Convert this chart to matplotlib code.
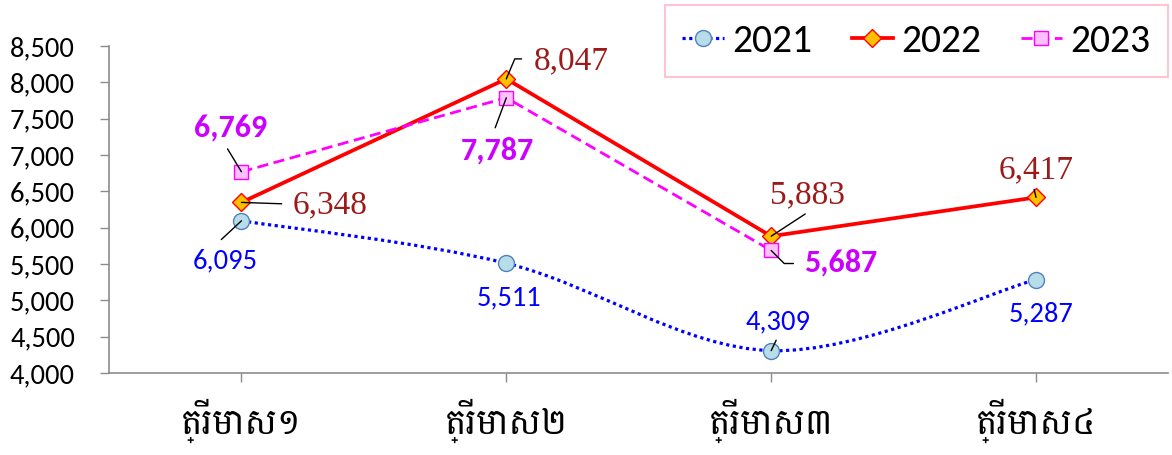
import numpy as np
import matplotlib.pyplot as plt
from matplotlib.path import Path
from matplotlib.patches import PathPatch
from matplotlib.lines import Line2D
from matplotlib.ticker import FuncFormatter

# data
quarters = ["ត្រីមាស១", "ត្រីមាស២", "ត្រីមាស៣", "ត្រីមាស៤"]
years = ["2021", "2022", "2023"]
y2021 = [6095, 5511, 4309, 5287]
y2022 = [6348, 8047, 5883, 6417]
y2023 = [6769, 7787, 5687]

plt.rcParams["font.family"] = ["Carlito", "DejaVu Sans"]
khmer_font = ["Battambang", "DejaVu Sans"]
serif_font = ["Liberation Serif", "DejaVu Serif"]

c2021, c2022, c2023 = "#0000FF", "#FF0000", "#FF00FF"


def smooth_path(xs, ys):
    # Excel-like smoothed line: Catmull-Rom turned into cubic Bezier segments
    pts = np.column_stack([xs, ys]).astype(float)
    ext = np.vstack([pts[0], pts, pts[-1]])
    verts = [pts[0]]
    codes = [Path.MOVETO]
    for i in range(len(pts) - 1):
        p0, p1, p2, p3 = ext[i], ext[i + 1], ext[i + 2], ext[i + 3]
        verts += [p1 + (p2 - p0) / 6, p2 - (p3 - p1) / 6, p2]
        codes += [Path.CURVE4] * 3
    return Path(verts, codes)


fig = plt.figure(figsize=(11.72, 4.55), dpi=100)
ax = fig.add_axes([0.093, 0.180, 0.904, 0.719])

x = np.arange(len(quarters))
dotted = (0, (1, 1.1))

# 2021 - smoothed dotted line
ax.add_patch(PathPatch(smooth_path(x, y2021), fill=False, edgecolor=c2021,
                       linestyle=dotted, lw=2.3, zorder=2))
ax.plot(x, y2021, ls="none", marker="o", ms=11.5, mfc="#B7DEE8",
        mec="#4F81BD", mew=1, zorder=3)

# 2022
ax.plot(x, y2022, color=c2022, lw=2.7, marker="D", ms=9, mfc="#FFC000",
        mec="#FF0000", mew=1, zorder=3)

# 2023
ax.plot(x[:len(y2023)], y2023, color=c2023, lw=2, ls=(0, (4, 2)), marker="s",
        ms=10, mfc="#FFC0FF", mec="#FF00FF", mew=1, zorder=3)

ax.set_xlim(-0.5, 3.5)
ax.set_ylim(4000, 8500)
ax.set_yticks(range(4000, 8501, 500))
ax.yaxis.set_major_formatter(FuncFormatter(lambda v, p: f"{v:,.0f}"))
ax.set_xticks(x)
ax.set_xticklabels(quarters, family=khmer_font, fontsize=26)

for s in ["top", "right"]:
    ax.spines[s].set_visible(False)
for s in ["left", "bottom"]:
    ax.spines[s].set_color("#8C8C8C")
    ax.spines[s].set_linewidth(1.2)
ax.tick_params(axis="y", length=6.5, width=1, color="#8C8C8C", pad=18,
               labelsize=20.5)
ax.tick_params(axis="x", length=6.5, width=1, color="#8C8C8C", pad=12)


def label(i, y, text, dx, dy, color, size, weight="normal", family=None,
          lead=None, conn="arc3"):
    ax.annotate(text, (i, y), xytext=(dx, dy), textcoords="offset points",
                ha="center", va="center", color=color, fontsize=size,
                fontweight=weight, family=family, zorder=5)
    if lead is not None:
        ax.annotate("", (i, y), xytext=lead, textcoords="offset points",
                    arrowprops=dict(arrowstyle="-", color="black", lw=1,
                                    shrinkA=0, shrinkB=0,
                                    connectionstyle=conn), zorder=4)


fmt = "{:,}".format

# 2021 labels
label(0, y2021[0], fmt(y2021[0]), -12, -29, c2021, 20.5, lead=(-14.5, -13.5))
label(1, y2021[1], fmt(y2021[1]), 2, -25, c2021, 20.5)
label(2, y2021[2], fmt(y2021[2]), 5, 21, c2021, 20.5, lead=(3.6, 7.5))
label(3, y2021[3], fmt(y2021[3]), 3.5, -25, c2021, 20.5)

# 2022 labels
dark_red = "#9C1A1A"
label(0, y2022[0], fmt(y2022[0]), 64, -2, dark_red, 24, family=serif_font,
      lead=(29, -1))
label(1, y2022[1], fmt(y2022[1]), 47, 13, dark_red, 24, family=serif_font,
      lead=(11, 14.4), conn="angle,angleA=0,angleB=67,rad=0")
label(2, y2022[2], fmt(y2022[2]), 26, 30, dark_red, 24, family=serif_font,
      lead=(24.5, 16))
label(3, y2022[3], fmt(y2022[3]), 0, 20, dark_red, 24, family=serif_font,
      lead=(-1.4, 5.8))

# 2023 labels
purple = "#CC00FF"
label(0, y2023[0], fmt(y2023[0]), -8, 32, purple, 23, "bold", lead=(-10, 16.5))
label(1, y2023[1], fmt(y2023[1]), -6.5, -38, purple, 23, "bold",
      lead=(-8, -21.6))
label(2, y2023[2], fmt(y2023[2]), 50, -9, purple, 23, "bold",
      lead=(16, -9.4), conn="angle,angleA=0,angleB=-45,rad=0")

# legend
handles = [
    Line2D([], [], color=c2021, ls=dotted, lw=2.3, marker="o", ms=11.5,
           mfc="#B7DEE8", mec="#4F81BD"),
    Line2D([], [], color=c2022, lw=2.7, marker="D", ms=9, mfc="#FFC000",
           mec="#FF0000"),
    Line2D([], [], color=c2023, ls=(0, (4, 2)), lw=2, marker="s", ms=10,
           mfc="#FFC0FF", mec="#FF00FF"),
]
leg = fig.legend(handles, years, loc="upper right",
                 bbox_to_anchor=(1168 / 1172, 1 - 5 / 455), ncol=3,
                 prop={"size": 28.5}, fancybox=False, edgecolor="#FFB6C8",
                 handlelength=1.05, handletextpad=0.2, columnspacing=1.0,
                 borderpad=0.45, borderaxespad=0)
leg.get_frame().set_linewidth(1.5)

fig.savefig("out.png", dpi=100)
